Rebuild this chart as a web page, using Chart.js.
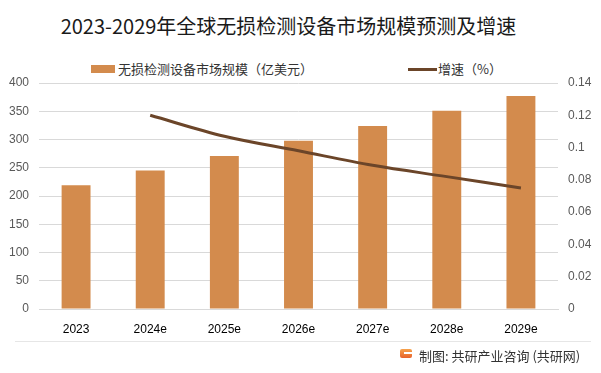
<!DOCTYPE html>
<html>
<head>
<meta charset="utf-8">
<script src="https://cdn.jsdelivr.net/npm/chart.js@4"></script>
<style>
  body { margin: 0; width: 601px; height: 373px; background: #fff; position: relative; overflow: hidden;
         font-family: "Noto Sans CJK SC", "Noto Sans", sans-serif; }
  #title { position: absolute; left: 0; width: 577px; top: 11px; text-align: center; font-size: 20px; color: #1a1a1a; }
  .lg { position: absolute; top: 59px; font-size: 13px; color: #333; line-height: 18px; white-space: nowrap; }
  .lg span { display: inline-block; vertical-align: middle; }
  #footline { position: absolute; left: 15px; right: 10px; top: 341px; height: 1px; background: #e6e6e6; }
  #logo { position: absolute; left: 400px; top: 349px; width: 12px; height: 9px; border-radius: 2px;
          background: linear-gradient(#f6a24c, #e8622a); }
  #logo::after { content: ""; position: absolute; left: 4px; top: 3px; width: 8px; height: 2px; background: #fff; }
  #source { position: absolute; left: 419px; top: 346px; font-size: 13px; color: #333; white-space: nowrap; }
  #wrap { position: absolute; left: 0; top: 0; width: 601px; height: 373px; }
</style>
</head>
<body>
<div id="title">2023-2029年全球无损检测设备市场规模预测及增速</div>
<div class="lg" style="left:91px"><span style="width:24px;height:8px;background:#D38B4D;margin-right:3px"></span><span>无损检测设备市场规模（亿美元）</span></div>
<div class="lg" style="left:408px"><span style="width:29px;height:3px;background:#6B4529;margin-right:1px"></span><span>增速（%）</span></div>
<div id="wrap"><canvas id="chart"></canvas></div>
<div id="footline"></div>
<div id="logo"></div>
<div id="source">制图: 共研产业咨询 (共研网)</div>
<script>
const years = ["2023", "2024e", "2025e", "2026e", "2027e", "2028e", "2029e"];
const marketSize = [219, 245, 271, 298, 324, 351, 377];
const growthRate = [null, 0.120, 0.107, 0.098, 0.089, 0.082, 0.075];

const tickFont = { family: "'Liberation Sans', sans-serif", size: 12 };

let ctx = document.getElementById("chart").getContext("2d");
let chart = new Chart(ctx, {
  data: {
    labels: years,
    datasets: [
      {
        type: "line",
        label: "增速（%）",
        data: growthRate,
        yAxisID: "y1",
        borderColor: "#6B4529",
        borderWidth: 3,
        pointRadius: 0,
        tension: 0.35,
        order: 0
      },
      {
        type: "bar",
        label: "无损检测设备市场规模（亿美元）",
        data: marketSize,
        yAxisID: "y",
        backgroundColor: "#D38B4D",
        barPercentage: 0.39,
        categoryPercentage: 1,
        order: 1
      }
    ]
  },
  options: {
    responsive: true,
    maintainAspectRatio: false,
    animation: false,
    layout: { padding: { top: 83, left: 0, right: 0, bottom: 0 } },
    plugins: { legend: { display: false }, tooltip: { enabled: false } },
    scales: {
      x: {
        grid: { display: false, drawTicks: false },
        border: { color: "#d9d9d9" },
        ticks: { color: "#000", font: tickFont, padding: 13 },
        afterFit: s => { s.height = 64; }
      },
      y: {
        position: "left",
        min: 0, max: 400,
        ticks: { stepSize: 50, color: "#595959", font: tickFont, padding: 10 },
        grid: { color: "#d9d9d9", drawTicks: false },
        border: { display: false },
        afterFit: s => { s.width = 39; }
      },
      y1: {
        position: "right",
        min: 0, max: 0.14,
        ticks: { stepSize: 0.02, color: "#595959", font: tickFont, padding: 10,
                 callback: v => String(+v.toFixed(2)) },
        grid: { display: false, drawTicks: false },
        border: { display: false },
        afterFit: s => { s.width = 43; }
      }
    }
  }
});
</script>
</body>
</html>
